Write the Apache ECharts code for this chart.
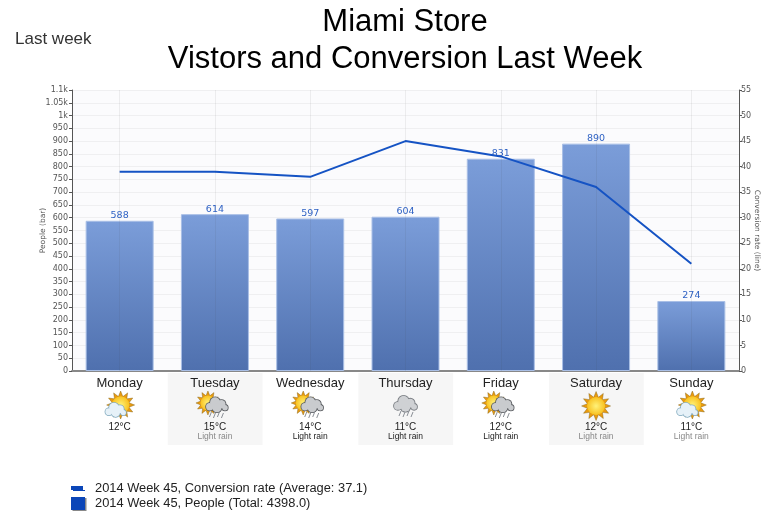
<!DOCTYPE html>
<html><head><meta charset="utf-8">
<style>html,body{margin:0;padding:0;background:#fff}#c{width:765px;height:512px}</style>
<script src="https://cdn.jsdelivr.net/npm/echarts@6/dist/echarts.min.js"></script>
</head><body><div id="c"></div>
<script>
const days = ['Monday','Tuesday','Wednesday','Thursday','Friday','Saturday','Sunday'];
const people = [588,614,597,604,831,890,274];
const conversion = [39,39,38,45,42,36,21];
const temps = ['12°C','15°C','14°C','11°C','12°C','12°C','11°C'];
const conditions = ['','Light rain','Light rain','Light rain','Light rain','Light rain','Light rain'];
const conditionTone = ['dark','grey','dark','dark','dark','grey','grey'];
const icons = ['sunCloud','sunRain','sunRain','rain','sunRain','sun','sunCloud'];
const shaded = [false,true,false,true,false,true,false];
const lineName = '2014 Week 45, Conversion rate (Average: 37.1)';
const barName = '2014 Week 45, People (Total: 4398.0)';
const FONT = '"Liberation Sans", Arial, sans-serif';
const AXF = '"DejaVu Sans", sans-serif';

function sun(cx, cy, R) {
  const pts = [];
  for (let i = 0; i < 24; i++) {
    const a = i * Math.PI / 12 - Math.PI / 2, r = i % 2 ? R * 0.62 : R;
    pts.push([cx + r * Math.cos(a), cy + r * Math.sin(a)]);
  }
  return [
    {type:'polygon', shape:{points:pts}, style:{fill:'#e89a10', stroke:'#7a5a10', lineWidth:0.4}},
    {type:'circle', shape:{cx, cy, r:R * 0.62}, style:{fill:{type:'radial',x:0.5,y:0.5,r:0.6,
      colorStops:[{offset:0,color:'#fff27a'},{offset:1,color:'#f7b80e'}]}}}
  ];
}
function cloud(cx, cy, s, fill, stroke) {
  const blobs = [[-8,2,5],[-2,-3,6.5],[5,-1,5.5],[9,3,4],[0,3,6]];
  const out = blobs.map(b => ({type:'circle', shape:{cx:cx + b[0]*s, cy:cy + b[1]*s, r:b[2]*s},
    style:{fill:stroke}}));
  blobs.forEach(b => out.push({type:'circle', shape:{cx:cx + b[0]*s, cy:cy + b[1]*s, r:(b[2]-0.9)*s},
    style:{fill}}));
  return out;
}
function rainDrops(cx, cy) {
  return [-6,-2,2,6].map((d,i) => ({type:'line',
    shape:{x1:cx+d+1.5, y1:cy+(i%2), x2:cx+d-0.5, y2:cy+5+(i%2)},
    style:{stroke:'#8a8f96', lineWidth:1}}));
}
function iconParts(kind, x, y) {
  if (kind === 'sun') return sun(x, y, 14.5);
  if (kind === 'sunCloud') return sun(x + 1, y - 1, 14).concat(cloud(x - 4, y + 4, 0.85, '#e6f1f8', '#7fa8bd'));
  if (kind === 'sunRain') return sun(x - 7, y - 3, 12).concat(cloud(x + 2, y - 1, 0.9, '#c9cbce', '#55585c'), rainDrops(x + 1, y + 6));
  return cloud(x, y - 2, 0.95, '#cfd1d4', '#777b80').concat(rainDrops(x, y + 5));
}

const chart = echarts.init(document.getElementById('c'), null, {renderer:'canvas'});
chart.setOption({
  animation:false,
  backgroundColor:'#fff',
  textStyle:{fontFamily:FONT},
  title:[
    {text:'Miami Store\nVistors and Conversion Last Week', left:400, top:-1, textAlign:'center',
     textStyle:{fontFamily:FONT, fontSize:31, fontWeight:'normal', color:'#000', lineHeight:37}},
    {text:'Last week', left:10, top:26,
     textStyle:{fontFamily:FONT, fontSize:17, fontWeight:'normal', color:'#333'}}
  ],
  legend:{
    orient:'vertical', left:71, top:481, itemGap:0, itemWidth:14, itemHeight:13, selectedMode:false,
    textStyle:{fontFamily:FONT, fontSize:12.85, color:'#222', padding:[0,0,0,5], lineHeight:15},
    padding:0,
    data:[
      {name:lineName, icon:'path://M0 5H12V9H14V10H2V9H0Z', itemStyle:{color:'#0b46b8', borderWidth:0}},
      {name:barName, icon:'rect', itemStyle:{color:'#0b46b8', borderWidth:0, shadowColor:'#888', shadowOffsetX:1.5, shadowOffsetY:1, shadowBlur:0}}
    ]
  },
  grid:{left:72, right:26, top:90, bottom:141, backgroundColor:'#fbfbfd', show:true, borderWidth:0, outerBoundsMode:'none'},
  xAxis:{
    type:'category', data:days,
    axisLine:{lineStyle:{color:'#888', width:2}},
    axisTick:{show:false},
    splitLine:{show:false},
    axisLabel:{
      interval:0, margin:5, color:'#222',
      formatter:(v,i) => `{day|${v}}\n{gap| }\n{temp|${temps[i]}}` +
        (conditions[i] ? `\n{${conditionTone[i]}|${conditions[i]}}` : ''),
      rich:{
        day:{fontFamily:FONT, fontSize:13, lineHeight:15, color:'#222'},
        gap:{fontSize:8, lineHeight:31},
        temp:{fontFamily:FONT, fontSize:10, lineHeight:10, color:'#222'},
        dark:{fontFamily:FONT, fontSize:8.5, lineHeight:10, color:'#222'},
        grey:{fontFamily:FONT, fontSize:8.5, lineHeight:10, color:'#888'}
      }
    }
  },
  yAxis:[
    {type:'value', min:0, max:1100, interval:50, name:'People (bar)', nameLocation:'middle', nameGap:25, nameMoveOverlap:false,
     nameTextStyle:{fontFamily:AXF, fontSize:7.5, color:'#555'},
     axisLine:{show:true, lineStyle:{color:'#555'}},
     axisTick:{show:true, length:3, lineStyle:{color:'#555'}},
     axisLabel:{fontFamily:AXF, fontSize:8, color:'#555', margin:4,
       formatter:v => v >= 1000 ? (v / 1000) + 'k' : String(v)},
     splitLine:{show:true, lineStyle:{color:'#efeff1', width:1}}},
    {type:'value', min:0, max:55, interval:5, name:'Conversion rate (line)', nameLocation:'middle', nameGap:14, nameMoveOverlap:false,
     nameRotate:-90,
     nameTextStyle:{fontFamily:AXF, fontSize:7.5, color:'#555'},
     axisLine:{show:true, lineStyle:{color:'#555'}},
     axisTick:{show:true, length:3, lineStyle:{color:'#555'}},
     axisLabel:{fontFamily:AXF, fontSize:8, color:'#555', margin:2},
     splitLine:{show:false}}
  ],
  series:[
    {type:'custom', name:'weather', z:-1, silent:true, clip:false, xAxisIndex:0, yAxisIndex:0,
     data:days.map((d,i) => [i,0]),
     encode:{x:0,y:1},
     tooltip:{show:false},
     renderItem:(params, api) => {
       const i = api.value(0), p = api.coord([i, 0]), w = api.size([1, 0])[0];
       const kids = [];
       if (shaded[i]) kids.push({type:'rect', shape:{x:p[0]-w/2+0.5, y:p[1]+2, width:w-0.5, height:72}, style:{fill:'#f6f6f6'}});
       return {type:'group', children:kids.concat(iconParts(icons[i], p[0], p[1]+35))};
     }},
    {type:'bar', name:barName, data:people, yAxisIndex:0, barWidth:68,
     itemStyle:{
       color:{type:'linear',x:0,y:0,x2:0,y2:1,colorStops:[{offset:0,color:'#7b9dd9'},{offset:1,color:'#4f70ae'}]},
       borderColor:'#a9bfe6', borderWidth:1},
     label:{show:true, position:'top', distance:0, fontFamily:AXF, fontSize:9.5, color:'#2f62c4'},
     markLine:{silent:true, symbol:'none', label:{show:false}, animation:false,
       lineStyle:{color:'rgba(60,60,70,0.08)', width:1, type:'solid'},
       data:days.map(d => ({xAxis:d}))}},
    {type:'line', name:lineName, data:conversion, yAxisIndex:1, showSymbol:false, symbol:'none',
     lineStyle:{color:'#1553c4', width:2}, itemStyle:{color:'#0b46b8'}, z:3}
  ]
});
</script></body></html>
